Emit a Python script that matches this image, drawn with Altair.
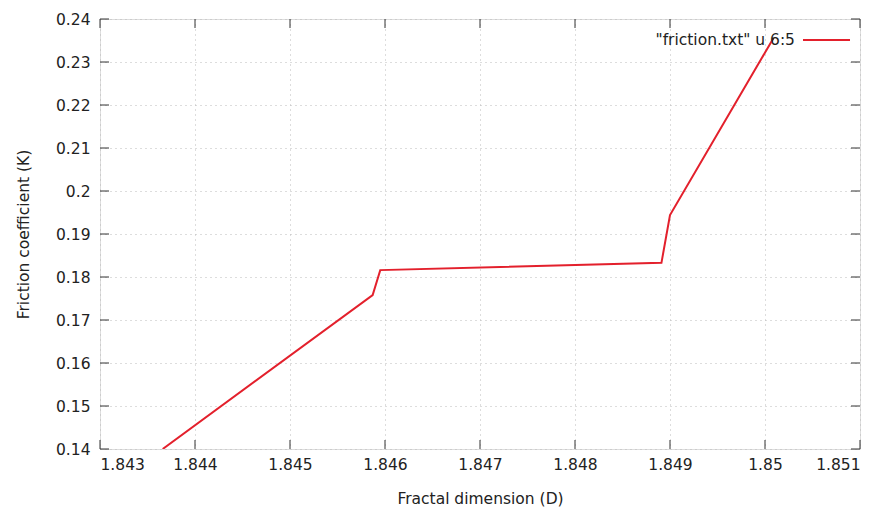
import altair as alt
import pandas as pd

# Data
D = [1.84366, 1.84587, 1.84595, 1.84891, 1.84900, 1.85009]
K = [0.1400, 0.1758, 0.1816, 0.1833, 0.1944, 0.2356]

x_ticks = [1.843, 1.844, 1.845, 1.846, 1.847, 1.848, 1.849, 1.850, 1.851]
y_ticks = [0.14, 0.15, 0.16, 0.17, 0.18, 0.19, 0.20, 0.21, 0.22, 0.23, 0.24]
legend_label = '"friction.txt" u 6:5'

W, H = 760, 430
FONT = "DejaVu Sans"
FS = 15.5

df = pd.DataFrame({"D": D, "K": K})
xt = pd.DataFrame({"v": x_ticks})
yt = pd.DataFrame({"v": y_ticks})

xscale = alt.Scale(domain=[1.843, 1.851], nice=False, zero=False)
yscale = alt.Scale(domain=[0.14, 0.24], nice=False, zero=False)

line = alt.Chart(df).mark_line(color="#e3202c", strokeWidth=2, clip=True).encode(
    x=alt.X("D:Q", scale=xscale,
            axis=alt.Axis(values=x_ticks, title="Fractal dimension (D)",
                          labelExpr="format(datum.value, '.4~f')",
                          tickSize=0, domain=False, labelPadding=8,
                          labelFont=FONT, labelFontSize=FS, labelColor="#222",
                          titleFont=FONT, titleFontSize=FS, titleFontWeight="normal",
                          titleColor="#222", titlePadding=19,
                          grid=True, gridColor="#bbbbbb", gridDash=[1, 4], gridWidth=1)),
    y=alt.Y("K:Q", scale=yscale,
            axis=alt.Axis(values=y_ticks, title="Friction coefficient (K)",
                          labelExpr="format(datum.value, '.2~f')",
                          tickSize=0, domain=False, labelPadding=10,
                          labelFont=FONT, labelFontSize=FS, labelColor="#222",
                          titleFont=FONT, titleFontSize=FS, titleFontWeight="normal",
                          titleColor="#222", titlePadding=24,
                          grid=True, gridColor="#bbbbbb", gridDash=[1, 4], gridWidth=1)),
)

TL = 9
bot = alt.Chart(xt).mark_rule(color="#333", strokeWidth=1).encode(
    x=alt.X("v:Q", scale=xscale), y=alt.value(H), y2=alt.value(H - TL))
top = alt.Chart(xt).mark_rule(color="#333", strokeWidth=1).encode(
    x=alt.X("v:Q", scale=xscale), y=alt.value(0), y2=alt.value(TL))
left = alt.Chart(yt).mark_rule(color="#333", strokeWidth=1).encode(
    y=alt.Y("v:Q", scale=yscale), x=alt.value(0), x2=alt.value(TL))
right = alt.Chart(yt).mark_rule(color="#333", strokeWidth=1).encode(
    y=alt.Y("v:Q", scale=yscale), x=alt.value(W), x2=alt.value(W - TL))

leg_text = alt.Chart(pd.DataFrame({"t": [legend_label]})).mark_text(
    align="right", baseline="middle", font=FONT, fontSize=FS, color="#222"
).encode(text="t:N", x=alt.value(695), y=alt.value(21))
leg_line = alt.Chart(pd.DataFrame({"t": [legend_label]})).mark_rule(
    color="#e3202c", strokeWidth=2
).encode(x=alt.value(703), x2=alt.value(750), y=alt.value(21))

chart = alt.layer(line, bot, top, left, right, leg_text, leg_line).properties(
    width=W, height=H,
    autosize=alt.AutoSizeParams(type="none"),
    padding={"left": 92, "top": 11, "right": 20, "bottom": 64},
).configure_view(stroke="#222", strokeWidth=1.5).configure(background="white")

chart.save("out.html", embed_options={"renderer": "svg", "actions": False})
